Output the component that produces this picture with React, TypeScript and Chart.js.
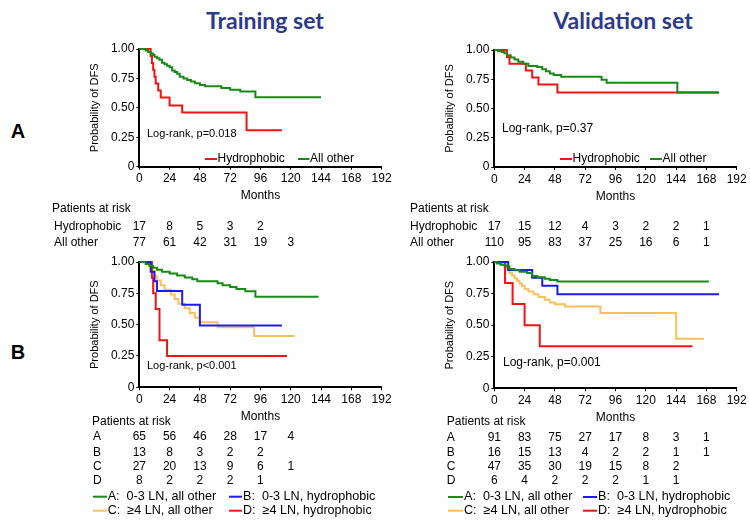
import React, { useEffect, useRef } from "react";
import { Chart, registerables } from "chart.js";

Chart.register(...registerables);

const FONT = "'Liberation Sans', Arial, Helvetica, sans-serif";
Chart.defaults.font.family = FONT;
Chart.defaults.color = "#000";

const GREEN = "#178a17";
const RED = "#f01414";
const BLUE = "#1c1ce6";
const ORANGE = "#fbbf5c";

const monthTicks = [0, 24, 48, 72, 96, 120, 144, 168, 192];
const probTicks = [0, 0.25, 0.5, 0.75, 1];
const probLabels = ["0", "0.25", "0.50", "0.75", "1.00"];

// ---- Training set, panel A ----
const trainHydroT = [0, 9, 10, 11, 12, 13, 15, 17, 24, 34, 85, 113];
const trainHydroS = [1, 0.941, 0.882, 0.824, 0.765, 0.706, 0.647, 0.588, 0.52, 0.46, 0.31, 0.31];
const trainOtherT = [0, 5, 7, 9, 11, 12, 14, 16, 18, 20, 22, 24, 26, 28, 30, 32, 35, 38, 41, 44, 48, 52, 65, 72, 80, 92, 144];
const trainOtherS = [1, 0.987, 0.974, 0.961, 0.948, 0.935, 0.922, 0.909, 0.883, 0.87, 0.857, 0.844, 0.818, 0.805, 0.79, 0.765, 0.75, 0.737, 0.724, 0.71, 0.695, 0.683, 0.668, 0.653, 0.638, 0.59, 0.59];

// ---- Validation set, panel A ----
const valHydroT = [0, 10, 12, 25, 30, 35, 50, 178];
const valHydroS = [1, 0.941, 0.882, 0.824, 0.765, 0.706, 0.636, 0.636];
const valOtherT = [0, 3, 6, 8, 10, 13, 16, 19, 23, 27, 34, 38, 41, 44, 47, 53, 85, 89, 145, 178];
const valOtherS = [1, 0.991, 0.982, 0.973, 0.955, 0.936, 0.918, 0.9, 0.882, 0.864, 0.855, 0.836, 0.818, 0.8, 0.786, 0.772, 0.745, 0.72, 0.636, 0.636];

// ---- Training set, panel B ----
const trainAT = [0, 5, 8, 11, 14, 18, 24, 30, 36, 42, 46, 62, 66, 72, 77, 84, 92, 142];
const trainAS = [1, 0.985, 0.969, 0.954, 0.938, 0.923, 0.908, 0.892, 0.877, 0.862, 0.846, 0.831, 0.815, 0.8, 0.784, 0.766, 0.723, 0.723];
const trainBT = [0, 9, 12, 14, 34, 48, 113];
const trainBS = [1, 0.923, 0.846, 0.769, 0.659, 0.494, 0.494];
const trainCT = [0, 9, 10, 12, 14, 17, 20, 25, 28, 31, 36, 40, 44, 48, 62, 91, 123];
const trainCS = [1, 0.963, 0.926, 0.889, 0.852, 0.815, 0.778, 0.741, 0.704, 0.667, 0.63, 0.593, 0.556, 0.519, 0.48, 0.41, 0.41];
const trainDT = [0, 10, 11, 13, 16, 22, 117];
const trainDS = [1, 0.875, 0.75, 0.625, 0.375, 0.25, 0.25];

// ---- Validation set, panel B ----
const valAT = [0, 2, 5, 9, 12, 16, 20, 26, 30, 34, 40, 44, 50, 170];
const valAS = [1, 0.989, 0.978, 0.967, 0.945, 0.934, 0.923, 0.912, 0.89, 0.879, 0.868, 0.857, 0.846, 0.846];
const valBT = [0, 11, 30, 38, 50, 178];
const valBS = [1, 0.9375, 0.875, 0.8125, 0.745, 0.745];
const valCT = [0, 6, 8, 10, 12, 14, 16, 18, 20, 22, 24, 27, 31, 35, 40, 44, 48, 56, 84, 144, 166];
const valCS = [1, 0.979, 0.957, 0.936, 0.915, 0.894, 0.872, 0.851, 0.83, 0.809, 0.787, 0.766, 0.745, 0.723, 0.702, 0.68, 0.665, 0.648, 0.597, 0.392, 0.392];
const valDT = [0, 8.5, 14.5, 24, 36, 157];
const valDS = [1, 0.833, 0.667, 0.5, 0.333, 0.333];

// ---- Patients at risk ----
const trainRiskHydro = [17, 8, 5, 3, 2];
const trainRiskOther = [77, 61, 42, 31, 19, 3];
const valRiskHydro = [17, 15, 12, 4, 3, 2, 2, 1];
const valRiskOther = [110, 95, 83, 37, 25, 16, 6, 1];
const trainRiskA = [65, 56, 46, 28, 17, 4];
const trainRiskB = [13, 8, 3, 2, 2];
const trainRiskC = [27, 20, 13, 9, 6, 1];
const trainRiskD = [8, 2, 2, 2, 1];
const valRiskA = [91, 83, 75, 27, 17, 8, 3, 1];
const valRiskB = [16, 15, 13, 4, 2, 2, 1, 1];
const valRiskC = [47, 35, 30, 19, 15, 8, 2];
const valRiskD = [6, 4, 2, 2, 2, 1, 1];

const legA = "A:  0-3 LN, all other";
const legB = "B:  0-3 LN, hydrophobic";
const legC = "C:  \u22654 LN, all other";
const legD = "D:  \u22654 LN, hydrophobic";

type Series = { label: string; color: string; t: number[]; s: number[] };
type Row = { label: string; values: number[]; y: number };
type LegItem = { idx: number; x1: number; x2: number; tx: number; y: number; text: string };
type PanelCfg = {
  area: { left: number; top: number; right: number; bottom: number };
  yBoxLeft: number;
  series: Series[];
  logrank: { text: string; x: number; y: number; size: number };
  legendSize: number;
  legend: LegItem[];
  table: { tx: number; ty: number; lx: number; rows: Row[] };
};

const W = 750;
const H = 522;

const panels: PanelCfg[] = [
  {
    area: { left: 139.3, top: 49, right: 381.6, bottom: 166.7 },
    yBoxLeft: 80,
    series: [
      { label: "All other", color: GREEN, t: trainOtherT, s: trainOtherS },
      { label: "Hydrophobic", color: RED, t: trainHydroT, s: trainHydroS },
    ],
    logrank: { text: "Log-rank, p=0.018", x: 147, y: 134, size: 11 },
    legendSize: 12,
    legend: [
      { idx: 1, x1: 205, x2: 217, tx: 217.5, y: 159, text: "Hydrophobic" },
      { idx: 0, x1: 298, x2: 309.5, tx: 310, y: 159, text: "All other" },
    ],
    table: {
      tx: 52, ty: 209, lx: 54,
      rows: [
        { label: "Hydrophobic", values: trainRiskHydro, y: 226.7 },
        { label: "All other", values: trainRiskOther, y: 242.3 },
      ],
    },
  },
  {
    area: { left: 494.3, top: 50, right: 736.7, bottom: 167 },
    yBoxLeft: 435,
    series: [
      { label: "All other", color: GREEN, t: valOtherT, s: valOtherS },
      { label: "Hydrophobic", color: RED, t: valHydroT, s: valHydroS },
    ],
    logrank: { text: "Log-rank, p=0.37", x: 502, y: 128.3, size: 12 },
    legendSize: 12,
    legend: [
      { idx: 1, x1: 560, x2: 572, tx: 572.5, y: 159, text: "Hydrophobic" },
      { idx: 0, x1: 650, x2: 662, tx: 662.5, y: 159, text: "All other" },
    ],
    table: {
      tx: 410, ty: 209, lx: 410,
      rows: [
        { label: "Hydrophobic", values: valRiskHydro, y: 226.7 },
        { label: "All other", values: valRiskOther, y: 242.3 },
      ],
    },
  },
  {
    area: { left: 139.3, top: 262, right: 381.6, bottom: 387.3 },
    yBoxLeft: 80,
    series: [
      { label: legA, color: GREEN, t: trainAT, s: trainAS },
      { label: legB, color: BLUE, t: trainBT, s: trainBS },
      { label: legD, color: RED, t: trainDT, s: trainDS },
      { label: legC, color: ORANGE, t: trainCT, s: trainCS },
    ],
    logrank: { text: "Log-rank, p<0.001", x: 147, y: 366, size: 11 },
    legendSize: 12.6,
    legend: [
      { idx: 0, x1: 93, x2: 107, tx: 107.7, y: 496.7, text: legA },
      { idx: 1, x1: 229, x2: 242, tx: 243, y: 496.7, text: legB },
      { idx: 3, x1: 93, x2: 107, tx: 107.7, y: 510.7, text: legC },
      { idx: 2, x1: 229, x2: 242, tx: 243, y: 510.7, text: legD },
    ],
    table: {
      tx: 92, ty: 421.7, lx: 93,
      rows: [
        { label: "A", values: trainRiskA, y: 437 },
        { label: "B", values: trainRiskB, y: 452.3 },
        { label: "C", values: trainRiskC, y: 466.3 },
        { label: "D", values: trainRiskD, y: 480.7 },
      ],
    },
  },
  {
    area: { left: 494.3, top: 262, right: 736.7, bottom: 388.3 },
    yBoxLeft: 435,
    series: [
      { label: legA, color: GREEN, t: valAT, s: valAS },
      { label: legB, color: BLUE, t: valBT, s: valBS },
      { label: legD, color: RED, t: valDT, s: valDS },
      { label: legC, color: ORANGE, t: valCT, s: valCS },
    ],
    logrank: { text: "Log-rank, p=0.001", x: 503, y: 362.7, size: 12 },
    legendSize: 12.6,
    legend: [
      { idx: 0, x1: 448, x2: 463, tx: 464, y: 497, text: legA },
      { idx: 1, x1: 583, x2: 597, tx: 598, y: 497, text: legB },
      { idx: 3, x1: 448, x2: 463, tx: 464, y: 510.7, text: legC },
      { idx: 2, x1: 583, x2: 597, tx: 598, y: 510.7, text: legD },
    ],
    table: {
      tx: 446.7, ty: 421.7, lx: 446.7,
      rows: [
        { label: "A", values: valRiskA, y: 437.5 },
        { label: "B", values: valRiskB, y: 452.5 },
        { label: "C", values: valRiskC, y: 466.3 },
        { label: "D", values: valRiskD, y: 480.7 },
      ],
    },
  },
];

function makeExtras(cfg: PanelCfg) {
  return {
    id: "kmExtras",
    afterDraw(chart: any) {
      const ctx = chart.ctx as CanvasRenderingContext2D;
      const xs = chart.scales.x;
      ctx.save();
      ctx.fillStyle = "#000";
      ctx.textBaseline = "middle";
      // log-rank
      ctx.font = `${cfg.logrank.size}px ${FONT}`;
      ctx.textAlign = "left";
      ctx.fillText(cfg.logrank.text, cfg.logrank.x, cfg.logrank.y);
      // legends
      ctx.font = `${cfg.legendSize}px ${FONT}`;
      for (const it of cfg.legend) {
        const ds = chart.data.datasets[it.idx];
        ctx.strokeStyle = ds.borderColor;
        ctx.lineWidth = 2;
        ctx.beginPath();
        ctx.moveTo(it.x1, it.y);
        ctx.lineTo(it.x2, it.y);
        ctx.stroke();
        ctx.fillStyle = "#000";
        ctx.textAlign = "left";
        ctx.fillText(it.text, it.tx, it.y);
      }
      // at-risk table
      ctx.font = `12px ${FONT}`;
      ctx.textAlign = "left";
      ctx.fillText("Patients at risk", cfg.table.tx, cfg.table.ty);
      for (const r of cfg.table.rows) {
        ctx.textAlign = "left";
        ctx.fillText(r.label, cfg.table.lx, r.y);
        ctx.textAlign = "center";
        r.values.forEach((v, i) => {
          ctx.fillText(String(v), xs.getPixelForValue(monthTicks[i]), r.y);
        });
      }
      ctx.restore();
    },
  };
}

function Panel({ cfg }: { cfg: PanelCfg }) {
  const ref = useRef<HTMLCanvasElement | null>(null);
  useEffect(() => {
    if (!ref.current) return;
    const a = cfg.area;
    const chart = new Chart(ref.current, {
      type: "line",
      data: {
        datasets: cfg.series.map((s) => ({
          label: s.label,
          data: s.t.map((t, i) => ({ x: t, y: s.s[i] })),
          borderColor: s.color,
          backgroundColor: s.color,
          borderWidth: 2,
          pointRadius: 0,
          stepped: "before" as const,
          fill: false,
          clip: false as any,
        })),
      },
      options: {
        animation: false,
        responsive: false,
        devicePixelRatio: 1,
        events: [],
        layout: {
          padding: {
            left: cfg.yBoxLeft,
            top: a.top,
            right: W - a.right,
            bottom: H - a.bottom - 40,
          },
        },
        plugins: { legend: { display: false }, tooltip: { enabled: false } },
        scales: {
          x: {
            type: "linear",
            min: 0,
            max: 192,
            ticks: {
              stepSize: 24,
              autoSkip: false,
              maxRotation: 0,
              padding: 2,
              color: "#000",
              font: { size: 12, family: FONT },
            },
            grid: { drawOnChartArea: false, drawTicks: true, tickLength: 3, color: "#000" },
            border: { display: true, color: "#000", width: 2 },
            title: {
              display: true,
              text: "Months",
              color: "#000",
              font: { size: 12, family: FONT },
              padding: { top: 0, bottom: 3.5 },
            },
            afterFit: (s: any) => {
              s.height = 40;
              s.paddingLeft = 0;
              s.paddingRight = 0;
            },
          },
          y: {
            type: "linear",
            min: 0,
            max: 1,
            ticks: {
              stepSize: 0.25,
              padding: 2,
              color: "#000",
              font: { size: 12, family: FONT },
              callback: (v: any) => {
                const k = probTicks.indexOf(Number(v));
                return k >= 0 ? probLabels[k] : "";
              },
            },
            grid: { drawOnChartArea: false, drawTicks: true, tickLength: 3, color: "#000" },
            border: { display: true, color: "#000", width: 2 },
            title: {
              display: true,
              text: "Probability of DFS",
              color: "#000",
              font: { size: 11, family: FONT },
              padding: { top: 8.4, bottom: 0 },
            },
            afterFit: (s: any) => {
              s.width = a.left - cfg.yBoxLeft;
              s.paddingTop = 0;
              s.paddingBottom = 0;
            },
          },
        },
      },
      plugins: [makeExtras(cfg)],
    } as any);
    return () => chart.destroy();
  }, [cfg]);
  return (
    <canvas
      ref={ref}
      width={W}
      height={H}
      style={{ position: "absolute", left: 0, top: 0, width: W, height: H }}
    />
  );
}

const titleStyle: React.CSSProperties = {
  position: "absolute",
  top: 5,
  fontFamily: "Lato, 'Open Sans', sans-serif",
  fontWeight: 700,
  fontSize: 23,
  color: "#2d3a8c",
  whiteSpace: "nowrap",
  transform: "translateX(-50%)",
  lineHeight: "30px",
};

const letterStyle: React.CSSProperties = {
  position: "absolute",
  fontFamily: FONT,
  fontWeight: 700,
  fontSize: 20,
  color: "#000",
  lineHeight: "24px",
  transform: "translate(-50%, -50%)",
};

export default function App() {
  return (
    <div
      style={{
        position: "absolute",
        left: 0,
        top: 0,
        width: W,
        height: H,
        background: "#fff",
        overflow: "hidden",
      }}
    >
      <div style={{ ...titleStyle, left: 265 }}>Training set</div>
      <div style={{ ...titleStyle, left: 623 }}>Validation set</div>
      <div style={{ ...letterStyle, left: 18, top: 131 }}>A</div>
      <div style={{ ...letterStyle, left: 18, top: 352 }}>B</div>
      {panels.map((p, i) => (
        <Panel key={i} cfg={p} />
      ))}
    </div>
  );
}
